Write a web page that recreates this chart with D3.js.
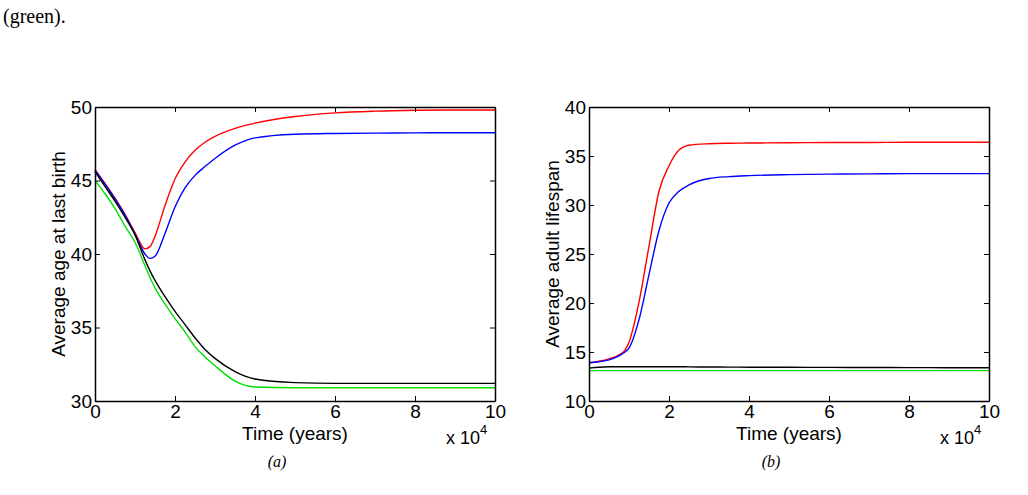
<!DOCTYPE html>
<html>
<head>
<meta charset="utf-8">
<script src="https://cdn.jsdelivr.net/npm/d3@7"></script>
<style>
  body { margin: 0; background: #fff; }
  .axis text { font-family: "Liberation Sans", Arial, sans-serif; font-size: 19px; fill: #000; }
  .axis path { stroke: #000; stroke-width: 1.5px; }
  .axis line { stroke: #000; stroke-width: 1px; }
  .line { fill: none; stroke-width: 1.4px; }
</style>
</head>
<body>
<script>
// time in units of 10^4 years
var timeA = [0, 0.25, 0.5, 0.75, 1, 1.25, 1.375, 1.5, 1.75, 2, 2.25, 2.5, 2.75, 3, 3.5, 4, 5, 6, 7, 8, 9, 10];
var ageRed   = [45.75, 44.8, 43.8, 42.7, 41.45, 40.35, 40.5, 41.2, 43.3, 45.1, 46.25, 47.05, 47.6, 48.0, 48.55, 48.9, 49.35, 49.6, 49.72, 49.78, 49.8, 49.8];
var ageBlue  = [45.7, 44.75, 43.75, 42.65, 41.35, 40.0, 39.7, 39.85, 41.4, 43.2, 44.5, 45.35, 45.95, 46.5, 47.4, 47.9, 48.15, 48.2, 48.22, 48.24, 48.25, 48.25];
var ageBlack = [45.6, 44.6, 43.6, 42.5, 41.3, 39.6, 38.85, 38.2, 37.1, 36.1, 35.2, 34.3, 33.5, 32.9, 32.0, 31.5, 31.25, 31.2, 31.2, 31.2, 31.2, 31.2];
var ageGreen = [45.0, 44.1, 43.1, 41.9, 40.8, 39.2, 38.4, 37.7, 36.6, 35.6, 34.7, 33.7, 33.0, 32.4, 31.35, 30.95, 30.9, 30.9, 30.9, 30.9, 30.9, 30.9];

var timeB = [0, 0.25, 0.5, 0.75, 0.9, 1, 1.25, 1.5, 1.75, 2, 2.25, 2.5, 3, 3.5, 4, 5, 6, 7, 8, 9, 10];
var lifeRed   = [13.9, 14.05, 14.3, 14.7, 15.2, 16.0, 20.1, 25.8, 31.4, 34.0, 35.6, 36.1, 36.25, 36.3, 36.32, 36.35, 36.37, 36.38, 36.4, 36.4, 36.4];
var lifeBlue  = [13.9, 14.0, 14.2, 14.6, 15.0, 15.4, 18.3, 22.9, 27.4, 30.2, 31.4, 32.05, 32.7, 32.9, 33.0, 33.1, 33.15, 33.18, 33.2, 33.2, 33.2];
var lifeBlack = [13.35, 13.45, 13.5, 13.5, 13.5, 13.5, 13.5, 13.5, 13.5, 13.5, 13.5, 13.48, 13.47, 13.46, 13.45, 13.44, 13.43, 13.42, 13.41, 13.4, 13.4];
var lifeGreen = [13.1, 13.1, 13.1, 13.1, 13.1, 13.1, 13.1, 13.1, 13.1, 13.1, 13.1, 13.1, 13.1, 13.1, 13.1, 13.1, 13.1, 13.1, 13.1, 13.1, 13.1];

var xTicks = [0, 2, 4, 6, 8, 10];
var ageTicks = [30, 35, 40, 45, 50];
var lifeTicks = [10, 15, 20, 25, 30, 35, 40];

var svg = d3.select("body").append("svg")
    .attr("width", 1028)
    .attr("height", 495);

// bit of the figure caption above
svg.append("text")
    .attr("x", 3)
    .attr("y", 23)
    .attr("font-family", "Liberation Serif, serif")
    .attr("font-size", "20px")
    .text("(green).");

function drawPanel(left, time, series, yDomain, yTicks, yLabel, caption) {
  var width = 400, height = 294, top = 107;
  var g = svg.append("g").attr("transform", "translate(" + left + "," + top + ")");

  var x = d3.scaleLinear().domain([0, 10]).range([0, width]);
  var y = d3.scaleLinear().domain(yDomain).range([height, 0]);

  var line = d3.line()
      .x(function(d) { return x(d[0]); })
      .y(function(d) { return y(d[1]); })
      .curve(d3.curveMonotoneX);

  series.forEach(function(s) {
    g.append("path")
      .attr("class", "line")
      .attr("stroke", s.color)
      .attr("d", line(time.map(function(t, i) { return [t, s.values[i]]; })));
  });

  // MATLAB style box with inward ticks
  g.append("g").attr("class", "axis")
      .attr("transform", "translate(0," + height + ")")
      .call(d3.axisBottom(x).tickValues(xTicks).tickSize(-5).tickSizeOuter(0).tickPadding(3));
  g.append("g").attr("class", "axis")
      .call(d3.axisTop(x).tickValues(xTicks).tickSize(-5).tickSizeOuter(0).tickFormat(""));
  g.append("g").attr("class", "axis")
      .call(d3.axisLeft(y).tickValues(yTicks).tickSize(-5).tickSizeOuter(0).tickPadding(3));
  g.append("g").attr("class", "axis")
      .attr("transform", "translate(" + width + ",0)")
      .call(d3.axisRight(y).tickValues(yTicks).tickSize(-5).tickSizeOuter(0).tickFormat(""));

  var sans = "Liberation Sans, Arial, sans-serif";
  g.append("text")
      .attr("x", width / 2)
      .attr("y", height + 39)
      .attr("text-anchor", "middle")
      .attr("font-family", sans)
      .attr("font-size", "19px")
      .text("Time (years)");

  var exp = g.append("text")
      .attr("x", width - 49)
      .attr("y", height + 43)
      .attr("font-family", sans)
      .attr("font-size", "18px");
  exp.append("tspan").text("x 10");
  exp.append("tspan").attr("font-size", "13px").attr("dy", -10).text("4");

  g.append("text")
      .attr("transform", "translate(-30," + (height / 2) + ") rotate(-90)")
      .attr("text-anchor", "middle")
      .attr("font-family", sans)
      .attr("font-size", "19px")
      .text(yLabel);

  g.append("text")
      .attr("x", width / 2 - 18)
      .attr("y", height + 66)
      .attr("text-anchor", "middle")
      .attr("font-family", "Liberation Serif, serif")
      .attr("font-style", "italic")
      .attr("font-size", "16px")
      .text(caption);
}

drawPanel(95, timeA, [
  { color: "#ff0000", values: ageRed },
  { color: "#0000ff", values: ageBlue },
  { color: "#000000", values: ageBlack },
  { color: "#00e000", values: ageGreen }
], [30, 50], ageTicks, "Average age at last birth", "(a)");

drawPanel(589, timeB, [
  { color: "#ff0000", values: lifeRed },
  { color: "#0000ff", values: lifeBlue },
  { color: "#000000", values: lifeBlack },
  { color: "#00e000", values: lifeGreen }
], [10, 40], lifeTicks, "Average adult lifespan", "(b)");
</script>
</body>
</html>
